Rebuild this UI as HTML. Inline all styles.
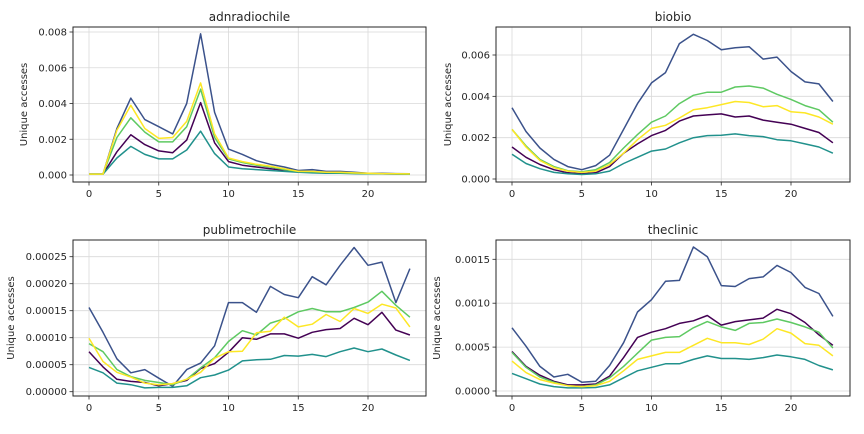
<!DOCTYPE html>
<html><head><meta charset="utf-8"><style>
html,body{margin:0;padding:0;background:#fff;width:864px;height:434px;overflow:hidden}
svg text{font-family:"DejaVu Sans","Liberation Sans",sans-serif;fill:#262626}
</style></head><body>
<svg id="chart" width="864" height="434" viewBox="0 0 864 434" xmlns="http://www.w3.org/2000/svg"></svg>
<script>
const hours = [0,1,2,3,4,5,6,7,8,9,10,11,12,13,14,15,16,17,18,19,20,21,22,23];
const xTicks = [0,5,10,15,20];
const seriesNames = ["purple","blue","teal","green","yellow"];
const seriesColors = ["#440154","#3b528b","#21918c","#5ec962","#fde725"];

// adnradiochile (x 0.001)
const adnPurple = [0.05,0.05,1.3,2.25,1.7,1.35,1.25,1.95,4.05,1.8,0.75,0.55,0.45,0.35,0.25,0.2,0.15,0.12,0.12,0.1,0.08,0.07,0.06,0.05];
const adnBlue = [0.05,0.05,2.6,4.3,3.1,2.7,2.3,4.0,7.9,3.5,1.45,1.15,0.8,0.6,0.45,0.25,0.3,0.2,0.2,0.15,0.1,0.1,0.08,0.07];
const adnTeal = [0.05,0.05,0.95,1.6,1.15,0.9,0.9,1.4,2.45,1.2,0.45,0.35,0.3,0.25,0.2,0.15,0.12,0.1,0.1,0.08,0.07,0.06,0.05,0.04];
const adnGreen = [0.05,0.05,2.1,3.2,2.4,1.85,1.85,2.7,4.8,2.1,0.9,0.7,0.55,0.45,0.3,0.2,0.18,0.15,0.13,0.1,0.08,0.07,0.06,0.05];
const adnYellow = [0.05,0.05,2.5,3.9,2.6,2.05,2.1,3.0,5.15,2.3,0.95,0.75,0.6,0.5,0.35,0.2,0.2,0.15,0.15,0.12,0.1,0.08,0.07,0.06];
const adnTicks = ["0.000","0.002","0.004","0.006","0.008"];

// biobio (x 0.001)
const bioPurple = [1.55,1.05,0.7,0.45,0.3,0.25,0.3,0.6,1.25,1.7,2.1,2.35,2.8,3.05,3.1,3.15,3.0,3.05,2.85,2.75,2.65,2.45,2.25,1.75];
const bioBlue = [3.45,2.3,1.5,0.95,0.6,0.45,0.65,1.15,2.4,3.65,4.65,5.15,6.55,7.0,6.7,6.25,6.35,6.4,5.8,5.9,5.2,4.7,4.6,3.75];
const bioTeal = [1.2,0.75,0.5,0.32,0.25,0.22,0.25,0.38,0.75,1.05,1.35,1.45,1.75,2.0,2.1,2.12,2.18,2.1,2.05,1.9,1.85,1.7,1.55,1.25];
const bioGreen = [2.4,1.6,0.95,0.6,0.4,0.35,0.45,0.8,1.5,2.15,2.75,3.05,3.65,4.05,4.2,4.2,4.45,4.5,4.4,4.1,3.85,3.55,3.35,2.75];
const bioYellow = [2.4,1.55,0.9,0.55,0.38,0.32,0.38,0.7,1.25,1.9,2.45,2.6,2.95,3.35,3.45,3.6,3.75,3.7,3.5,3.55,3.25,3.2,3.0,2.65];
const bioTicks = ["0.000","0.002","0.004","0.006"];

// publimetrochile (x 1e-5)
const pubPurple = [7.4,4.6,2.3,1.9,1.7,1.1,1.5,2.1,4.3,5.2,7.3,10.0,9.7,10.7,10.7,9.9,11,11.5,11.7,13.6,12.4,14.7,11.4,10.5];
const pubBlue = [15.6,11,6.1,3.5,4.1,2.5,1.0,4.1,5.3,8.5,16.5,16.5,14.7,19.5,18,17.4,21.3,19.8,23.4,26.7,23.4,24,16.5,22.8];
const pubTeal = [4.5,3.5,1.6,1.3,0.7,0.8,0.8,1.1,2.6,3.1,4.0,5.7,5.9,6.0,6.7,6.6,6.9,6.5,7.4,8.1,7.4,7.9,6.8,5.8];
const pubGreen = [8.9,7.4,4.1,2.8,2.1,1.7,1.3,2.3,4.4,6.3,9.3,11.3,10.5,12.7,13.5,14.8,15.4,14.8,14.8,15.6,16.6,18.6,16.0,13.8];
const pubYellow = [9.9,5.6,3.6,2.7,1.6,1.3,1.5,2.3,3.6,6.2,7.4,7.5,10.9,11.2,13.8,12,12.5,14.3,13,15.4,14.5,16.2,15.5,12];
const pubTicks = ["0.00000","0.00005","0.00010","0.00015","0.00020","0.00025"];

// theclinic (x 1e-4)
const cliPurple = [4.5,2.8,1.8,1.1,0.7,0.7,0.8,1.7,3.8,6.1,6.7,7.1,7.7,8.0,8.6,7.5,7.9,8.1,8.3,9.3,8.8,7.8,6.4,5.2];
const cliBlue = [7.2,5.1,2.8,1.6,1.9,1.0,1.1,2.9,5.5,9.0,10.4,12.5,12.6,16.4,15.3,12.0,11.9,12.8,13.0,14.3,13.5,11.8,11.1,8.5];
const cliTeal = [2.0,1.4,0.8,0.5,0.35,0.35,0.4,0.7,1.5,2.3,2.7,3.1,3.1,3.6,4.0,3.7,3.7,3.6,3.8,4.1,3.9,3.6,2.9,2.4];
const cliGreen = [4.4,2.7,1.6,1.0,0.6,0.5,0.7,1.5,2.8,4.3,5.8,6.1,6.2,7.2,7.9,7.3,6.9,7.7,7.8,8.2,7.8,7.3,6.7,4.9];
const cliYellow = [3.4,2.1,1.3,0.9,0.6,0.5,0.6,1.1,2.3,3.6,4.0,4.4,4.4,5.2,6.0,5.5,5.5,5.3,5.9,7.1,6.6,5.4,5.2,4.0];
const cliTicks = ["0.0000","0.0005","0.0010","0.0015"];

const panels = [
 {name:"adnradiochile", L:73,R:426,T:27,B:182, x0:89,x20:368, y0:175, yTop:32, topVal:8, tickStep:2, ticks:adnTicks, series:[adnPurple,adnBlue,adnTeal,adnGreen,adnYellow], ylabX:27},
 {name:"biobio", L:496,R:850,T:27,B:182, x0:512,x20:791, y0:179, yTop:55, topVal:6, tickStep:2, ticks:bioTicks, series:[bioPurple,bioBlue,bioTeal,bioGreen,bioYellow], ylabX:451},
 {name:"publimetrochile", L:73,R:426,T:240,B:396, x0:89,x20:368, y0:391.7, yTop:256.7, topVal:25, tickStep:5, ticks:pubTicks, series:[pubPurple,pubBlue,pubTeal,pubGreen,pubYellow], ylabX:14},
 {name:"theclinic", L:496,R:850,T:240,B:396, x0:512,x20:791, y0:391, yTop:259.3, topVal:15, tickStep:5, ticks:cliTicks, series:[cliPurple,cliBlue,cliTeal,cliGreen,cliYellow], ylabX:440}
];
const NS="http://www.w3.org/2000/svg";
const svg=document.getElementById('chart');
function mk(tag,attrs,parent){const e=document.createElementNS(NS,tag);for(const k in attrs)e.setAttribute(k,attrs[k]);(parent||svg).appendChild(e);return e;}

panels.forEach(p=>{
  const g=mk('g',{});
  
  
  const xs=v=>p.x0+(p.x20-p.x0)*v/20;
  const ys=v=>p.y0-(p.y0-p.yTop)*v/p.topVal;
  // grid + ticks
  xTicks.forEach(t=>{
    const gl=mk('line',{x1:xs(t),x2:xs(t),y1:p.T,y2:p.B,stroke:'#d9d9d9','stroke-width':0.8},g);
    
    
    mk('line',{x1:xs(t),x2:xs(t),y1:p.B,y2:p.B+3.5,stroke:'#262626','stroke-width':0.8},g);
    const tx=mk('text',{x:xs(t),y:p.B+15,'text-anchor':'middle','font-size':10},g);
    tx.textContent=t;
    
    
  });
  p.ticks.forEach((lab,i)=>{
    const v=i*p.tickStep, y=ys(v);
    const gl=mk('line',{x1:p.L,x2:p.R,y1:y,y2:y,stroke:'#d9d9d9','stroke-width':0.8},g);
    
    
    mk('line',{x1:p.L-3.5,x2:p.L,y1:y,y2:y,stroke:'#262626','stroke-width':0.8},g);
    const tx=mk('text',{x:p.L-6,y:y+3.5,'text-anchor':'end','font-size':10},g);
    tx.textContent=lab;
    
    
  });
  p.series.forEach((arr,si)=>{
    const d=arr.map((v,i)=>(i?'L':'M')+xs(hours[i]).toFixed(1)+','+ys(v).toFixed(1)).join(' ');
    const path=mk('path',{d:d,fill:'none',stroke:seriesColors[si],'stroke-width':1.5,'stroke-linejoin':'round'},g);
    
    
  });
  const box=mk('rect',{x:p.L,y:p.T,width:p.R-p.L,height:p.B-p.T,fill:'none',stroke:'#262626','stroke-width':1},g);
  
  
  const title=mk('text',{x:(p.L+p.R)/2,y:p.T-6,'text-anchor':'middle','font-size':12},g);
  title.textContent=p.name;
  
  
  const cy=(p.T+p.B)/2;
  const yl=mk('text',{x:p.ylabX,y:cy,'text-anchor':'middle','font-size':10,transform:'rotate(-90 '+p.ylabX+' '+cy+')'},g);
  yl.textContent='Unique accesses';
  
  
});
</script>
</body></html>
